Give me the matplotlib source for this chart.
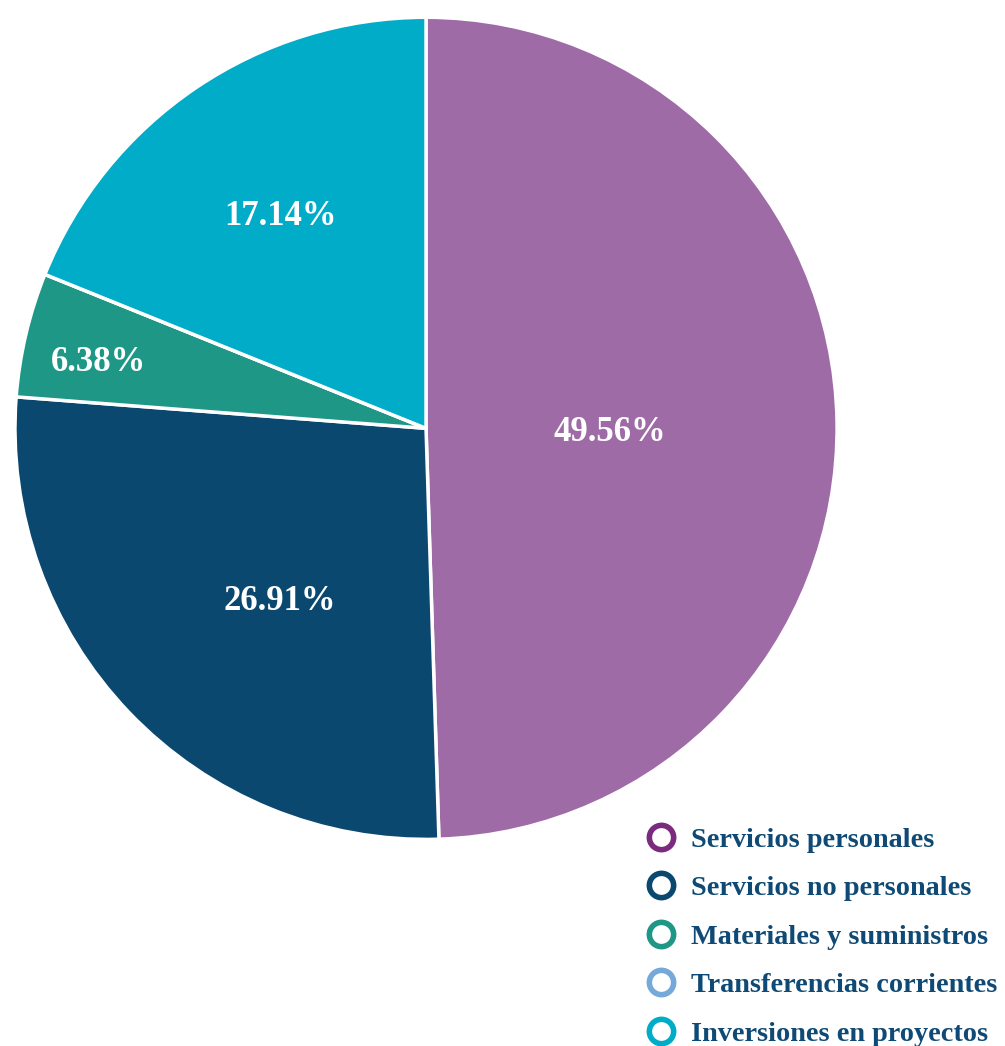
import numpy as np
import matplotlib
matplotlib.use("Agg")
import matplotlib.pyplot as plt
from matplotlib.lines import Line2D

categories = ["Servicios personales", "Servicios no personales", "Materiales y suministros",
              "Transferencias corrientes", "Inversiones en proyectos"]
# percentage labels printed on the chart
label_values = [49.56, 26.91, 6.38, 0.0, 17.14]
# slice shares as drawn in the picture (angles)
slice_shares = [49.5, 26.72, 4.89, 0.0, 18.89]
slice_colors = ["#9E6BA7", "#0B4870", "#1F9787", "#74A9DA", "#00ACC8"]
legend_colors = ["#7A2B80", "#0B4870", "#1F9787", "#74A9DA", "#00ACC8"]
# label placement: (radius fraction, angle in degrees)
label_pos = [(0.448, -1.3), (0.553, 229.8), (0.813, 168.6), (0.6, 160.0), (0.625, 124.6)]

plt.rcParams['font.family'] = ['Liberation Serif', 'DejaVu Serif']

fig = plt.figure(figsize=(10.05, 10.46), dpi=100)
ax = fig.add_axes([0.0149, 0.1975, 0.818, 0.786])
wedges, _ = ax.pie(slice_shares, colors=slice_colors, startangle=90, counterclock=False,
                   radius=1.0, wedgeprops=dict(edgecolor="white", linewidth=2.5))
ax.set_xlim(-1, 1)
ax.set_ylim(-1, 1)
ax.set_aspect('equal')
ax.axis('off')

for v, (r, a) in zip(label_values, label_pos):
    if v <= 0:
        continue
    ang = np.deg2rad(a)
    ax.text(r * np.cos(ang), r * np.sin(ang), f"{v:.2f}%", ha='center', va='center',
            color='white', fontsize=25, fontweight='bold')

handles = [Line2D([], [], marker='o', linestyle='none', markersize=17.5,
                  markerfacecolor='white', markeredgecolor=c, markeredgewidth=4)
           for c in legend_colors]
leg = fig.legend(handles, categories, loc='upper left', bbox_to_anchor=(0.643, 0.2095),
                 frameon=False, prop=dict(size=20.3, weight='bold'),
                 handletextpad=0.55, labelspacing=0.81, handlelength=1.05, borderaxespad=0,
                 borderpad=0)
for t in leg.get_texts():
    t.set_color("#0E4A75")

fig.savefig("out.png", dpi=100, facecolor='white')
